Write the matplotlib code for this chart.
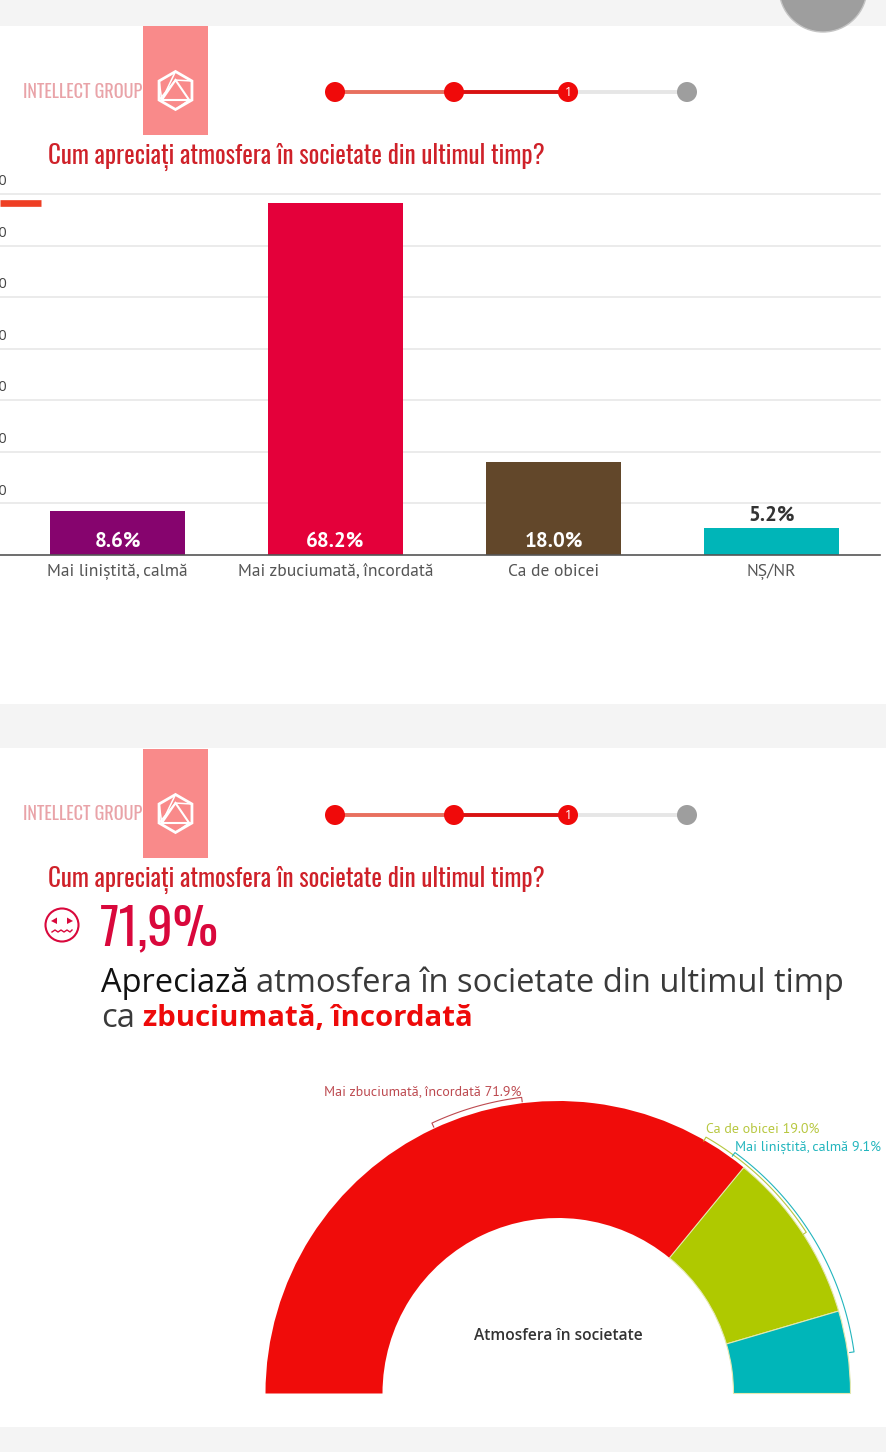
import numpy as np
import matplotlib
matplotlib.use('Agg')
import matplotlib.pyplot as plt
from matplotlib.patches import Rectangle, Circle, Polygon

# datos del primer grafico (barras)
bar_labels = ['Mai liniștită, calmă', 'Mai zbuciumată, încordată', 'Ca de obicei', 'NȘ/NR']
bar_values = [8.6, 68.2, 18.0, 5.2]
bar_colors = ['#86046e', '#e4003a', '#62472a', '#00b5b8']
bar_ticks = [10, 20, 30, 40, 50, 60, 70]
stub_value = 68.2

# datos del segundo grafico (semicirculo)
pie_labels = ['Mai zbuciumată, încordată', 'Ca de obicei', 'Mai liniștită, calmă']
pie_values = [71.9, 19.0, 9.1]
pie_colors = ['#f00c0a', '#afc900', '#00b6b9']
pie_text_colors = ['#bd4a50', '#b7c73f', '#22b5bd']

title = 'Cum apreciați atmosfera în societate din ultimul timp?'
W, H = 887, 1452
NARROW = ['Oswald', 'Liberation Sans', 'DejaVu Sans']
PT = ['PT Sans', 'Open Sans', 'DejaVu Sans']
BODY = ['Open Sans', 'Noto Sans', 'DejaVu Sans']
GREY_BG = '#f4f4f4'

fig = plt.figure(figsize=(W / 100, H / 100), dpi=100, facecolor=GREY_BG)

# capa de fondo en pixeles
bg = fig.add_axes([0, 0, 1, 1], zorder=0)
bg.set_xlim(0, W)
bg.set_ylim(H, 0)
bg.axis('off')
bg.add_patch(Rectangle((0, 26), W, 678, fc='white', ec='none'))
bg.add_patch(Rectangle((0, 748), W, 679, fc='white', ec='none'))
bg.add_patch(Circle((823, -12), 44, fc='#9e9e9e', ec='#c4c4c4', lw=1))


def header(dy):
    bg.add_patch(Rectangle((143, 26 + dy), 65, 109, fc='#f98a8a', ec='none'))
    bg.text(23, 91.5 + dy, 'INTELLECT GROUP', family=NARROW, fontsize=13.1, color='#e9a3a8',
            va='center', ha='left')
    # logo
    ang = np.radians(np.arange(30, 390, 60))
    cx, cy, r = 175.5, 90.5 + dy, 19
    hx = cx + r * np.cos(ang)
    hy = cy + r * np.sin(ang)
    bg.add_patch(Polygon(np.c_[hx, hy], closed=True, fc='none', ec='white', lw=2))
    tri = np.array([[cx, cy - r * 0.55], [cx + r * 0.72, cy + r * 0.5], [cx - r * 0.72, cy + r * 0.5]])
    bg.add_patch(Polygon(tri, closed=True, fc='none', ec='white', lw=1.5))
    for i in range(6):
        j = [1, 1, 0, 2, 2, 0][i]
        bg.plot([hx[i], tri[j, 0]], [hy[i], tri[j, 1]], color='white', lw=1.1)
    # pasos
    xs = [335, 454, 568, 687]
    bg.plot(xs[:2], [92 + dy] * 2, color='#e8705f', lw=2.8, solid_capstyle='butt')
    bg.plot(xs[1:3], [92 + dy] * 2, color='#d81212', lw=2.8, solid_capstyle='butt')
    bg.plot(xs[2:], [92 + dy] * 2, color='#e6e6e6', lw=2.8, solid_capstyle='butt')
    for x, c in zip(xs, ['#f00a0a', '#f00a0a', '#f00a0a', '#9e9e9e']):
        bg.add_patch(Circle((x, 92 + dy), 10, fc=c, ec='none', zorder=3))
    bg.text(568, 92.5 + dy, '1', color='white', fontsize=9, family=BODY, ha='center', va='center', zorder=4)
    bg.text(48, 157 + dy, title, family=NARROW, fontsize=18, color='#cf2129', va='center', ha='left')


header(0)
header(723)

# barras
ax = fig.add_axes([0, (H - 555) / H, 880 / W, (555 - 194) / H], zorder=1)
ax.patch.set_alpha(0)
ax.set_xlim(-117.5 / 218, 762.5 / 218)
ax.set_ylim(0, 70)
xpos = np.arange(len(bar_values))
ax.set_axisbelow(True)
ax.bar(xpos, bar_values, width=0.617, color=bar_colors)
ax.set_yticks(bar_ticks)
ax.set_yticklabels([])
ax.set_xticks(xpos)
ax.set_xticklabels(bar_labels, family=PT, fontsize=12.6, color='#555555', va='baseline')
ax.tick_params(axis='both', length=0)
ax.tick_params(axis='x', pad=15)
ax.grid(axis='y', color='#e6e6e6', lw=1.1, clip_on=False)
for s in ['top', 'left', 'right']:
    ax.spines[s].set_visible(False)
ax.spines['bottom'].set_color('#555555')
ax.spines['bottom'].set_linewidth(1.2)
for v in bar_ticks:
    ax.text(7 / 880, v + 2.4, str(v), transform=ax.get_yaxis_transform(), ha='right', va='center',
            family=BODY, fontsize=10.5, color='#444444', clip_on=False)
ax.hlines(stub_value, 0, 41 / 880, transform=ax.get_yaxis_transform(), color='#ee3f24', lw=4.8)
for x, v in zip(xpos, bar_values):
    if v > 6:
        ax.text(x, 2.7, f'{v:.1f}%', color='white', ha='center', va='center', family=PT,
                fontsize=15, fontweight='bold')
    else:
        ax.text(x, v + 2.5, f'{v:.1f}%', color='#333333', ha='center', va='center', family=PT,
                fontsize=15, fontweight='bold')

# texto principal del segundo panel
bg.text(100, 929, '71,9%', family=NARROW, fontsize=36.5, color='#d9083c', va='center', ha='left')
bg.add_patch(Circle((62, 925), 16.5, fc='none', ec='#d9083c', lw=1.5))
bg.add_patch(Polygon([[51, 921], [57, 917.5], [57, 924]], fc='#d9083c', ec='none'))
bg.add_patch(Polygon([[73, 921], [67, 917.5], [67, 924]], fc='#d9083c', ec='none'))
bg.plot([52, 55, 58, 61, 64, 67, 70, 72], [932, 930, 932, 930, 932, 930, 932, 930], color='#d9083c', lw=1)

bg.text(101, 983.5, 'Apreciază', family=BODY, fontsize=23.5, color='#111111', va='center')
bg.text(256, 983.5, 'atmosfera în societate din ultimul timp', family=BODY, fontsize=23.5, color='#3a3a3a',
        va='center')
bg.text(101, 1018.5, 'ca', family=BODY, fontsize=23.5, color='#3a3a3a', va='center')
bg.text(143, 1018.5, 'zbuciumată, încordată', family=BODY, fontsize=21.2, color='#ee0a0a', va='center',
        fontweight='bold')

# semicirculo
R_PX = 292.5
pie_ax = fig.add_axes([265.5 / W, (H - 1393.5) / H, 585 / W, R_PX / H], zorder=1)
pie_ax.patch.set_alpha(0)
wedges, _ = pie_ax.pie(pie_values + [sum(pie_values)], colors=pie_colors + ['none'], startangle=180,
                       counterclock=False, radius=1, wedgeprops=dict(width=0.4, edgecolor='none'))
wedges[-1].set_visible(False)
for w in wedges[1:3]:
    w.set_edgecolor('#e3e8b0')
    w.set_linewidth(0.8)
pie_ax.set_xlim(-1, 1)
pie_ax.set_ylim(0, 1)
pie_ax.set_aspect('auto')


def bracket(a0, a1, r, c, tick_in=0.015):
    t = np.radians(np.linspace(a0, a1, 60))
    rr = np.r_[r - tick_in, np.full(60, r), r - tick_in]
    tt = np.r_[t[0], t, t[-1]]
    pie_ax.plot(rr * np.cos(tt), rr * np.sin(tt), color=c, lw=0.8, clip_on=False)


bracket(115, 97, 1.02, pie_text_colors[0])
bracket(60, 33, 1.012, pie_text_colors[1])
bracket(53.7, 8, 1.022, pie_text_colors[2])

bg.text(558.5, 1336, 'Atmosfera în societate', family=BODY, fontsize=11.2, fontweight='semibold',
        color='#333333', ha='center', va='center')
pie_pos = [(324, 1092), (706, 1129), (735, 1147)]
for (x, y), lab, v, c in zip(pie_pos, pie_labels, pie_values, pie_text_colors):
    bg.text(x, y, f'{lab} {v:.1f}%', family=PT, fontsize=10.1, color=c, ha='left', va='center')

fig.savefig('out.png', dpi=100, facecolor=GREY_BG)
